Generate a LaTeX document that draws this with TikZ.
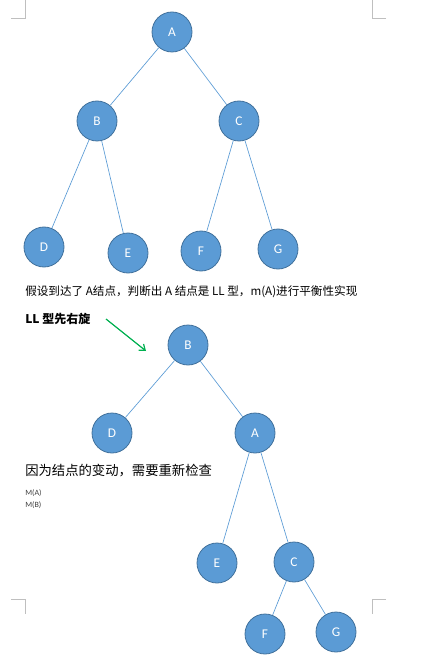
\documentclass[tikz,border=0pt]{standalone}
\usepackage{fontspec}
\usetikzlibrary{arrows.meta}
\setmainfont{Carlito}
\newfontfamily\cjk{Noto Sans CJK SC}
\definecolor{nodefill}{HTML}{5B9BD5}
\definecolor{nodeborder}{HTML}{41719C}
\definecolor{edgecol}{HTML}{5B9BD5}
\definecolor{arrgreen}{HTML}{00B050}
\definecolor{markgray}{HTML}{BFBFBF}
\tikzset{
  treenode/.style={circle,draw=nodeborder,fill=nodefill,line width=0.6pt,minimum size=30pt,inner sep=0pt,text=white,font=\fontsize{10}{10}\selectfont},
  treeedge/.style={draw=edgecol,line width=0.5pt},
  cornermark/.style={draw=markgray,line width=0.5pt}
}
\begin{document}
\begin{tikzpicture}[x=0.75pt,y=-0.75pt]
\useasboundingbox (0,0) rectangle (432,659);

\draw[cornermark] (11,18)--(25,18)--(25,0);
\draw[cornermark] (386,18)--(372,18)--(372,0);
\draw[cornermark] (11,599)--(25,599)--(25,614);
\draw[cornermark] (386,599)--(372,599)--(372,614);

\node[treenode] (a) at (172,32) {A};
\node[treenode] (b) at (97,121) {B};
\node[treenode] (c) at (239,121) {C};
\node[treenode] (d) at (44,247) {D};
\node[treenode] (e) at (128,253) {E};
\node[treenode] (f) at (201,251) {F};
\node[treenode] (g) at (278,249) {G};

\draw[treeedge] (a)--(b);
\draw[treeedge] (a)--(c);
\draw[treeedge] (b)--(d);
\draw[treeedge] (b)--(e);
\draw[treeedge] (c)--(f);
\draw[treeedge] (c)--(g);

\node[anchor=west,inner sep=0pt,font=\cjk\fontsize{8.7}{10}\selectfont] (note1) at (25,292) {假设到达了 A结点，判断出 A 结点是 LL 型，m(A)进行平衡性实现};
\node[anchor=west,inner sep=0pt,font=\cjk\bfseries\fontsize{9}{10}\selectfont] (note2) at (25,319) {LL 型先右旋};

\coordinate (arrfrom) at (106,319);
\coordinate (arrto) at (146,351);
\draw[arrgreen,line width=0.9pt,-{Straight Barb[length=4pt,width=6pt]}] (arrfrom)--(arrto);

\node[treenode] (b2) at (188,345) {B};
\node[treenode] (d2) at (112,433) {D};
\node[treenode] (a2) at (255,433) {A};
\node[treenode] (e2) at (217,563) {E};
\node[treenode] (c2) at (294,562) {C};
\node[treenode] (f2) at (265,634) {F};
\node[treenode] (g2) at (336,632) {G};

\draw[treeedge] (b2)--(d2);
\draw[treeedge] (b2)--(a2);
\draw[treeedge] (a2)--(e2);
\draw[treeedge] (a2)--(c2);
\draw[treeedge] (c2)--(f2);
\draw[treeedge] (c2)--(g2);

\node[anchor=west,inner sep=0pt,font=\cjk\fontsize{10}{11}\selectfont] (note3) at (25,471) {因为结点的变动，需要重新检查};
\node[anchor=west,inner sep=0pt,text=black!75,font=\fontsize{6}{6}\selectfont] (ma) at (25,493) {M(A)};
\node[anchor=west,inner sep=0pt,text=black!75,font=\fontsize{6}{6}\selectfont] (mb) at (25,505) {M(B)};
\end{tikzpicture}
\end{document}
